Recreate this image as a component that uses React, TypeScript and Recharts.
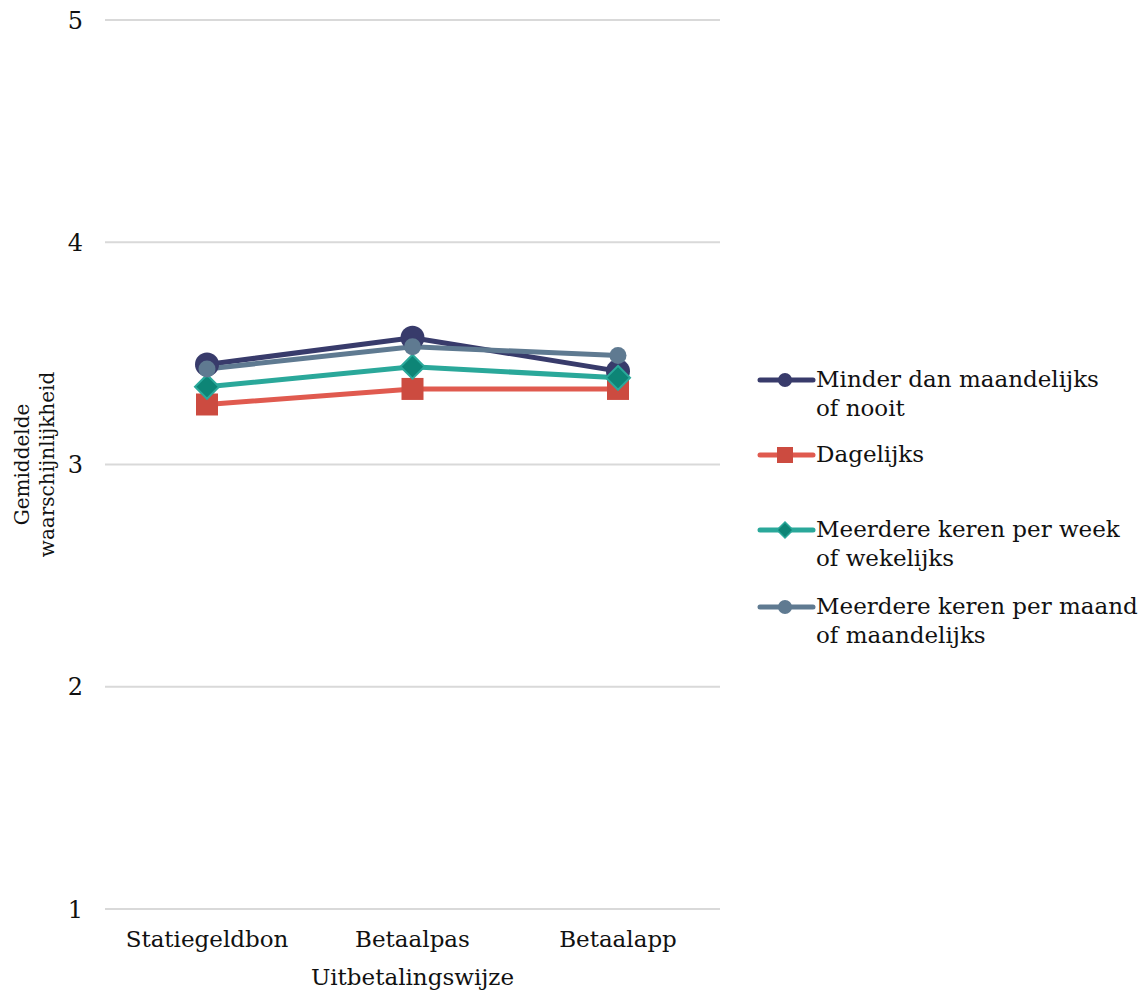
import React from 'react';
import { LineChart, Line, XAxis, YAxis, CartesianGrid, Legend } from 'recharts';

const categories = ['Statiegeldbon', 'Betaalpas', 'Betaalapp'];
const minderDanMaandelijks = [3.45, 3.57, 3.42];
const dagelijks = [3.27, 3.34, 3.34];
const meerdereWeek = [3.35, 3.44, 3.39];
const meerdereMaand = [3.43, 3.53, 3.49];
const yTicks = [1, 2, 3, 4, 5];

const seriesNames = [
  'Minder dan maandelijks of nooit',
  'Dagelijks',
  'Meerdere keren per week of wekelijks',
  'Meerdere keren per maand of maandelijks',
];
const legendLines = [
  ['Minder dan maandelijks', 'of nooit'],
  ['Dagelijks'],
  ['Meerdere keren per week', 'of wekelijks'],
  ['Meerdere keren per maand', 'of maandelijks'],
];

const data = categories.map((c, i) => ({
  cat: c,
  s0: minderDanMaandelijks[i],
  s1: dagelijks[i],
  s2: meerdereWeek[i],
  s3: meerdereMaand[i],
}));

const FONT = '"DejaVu Serif", serif';
const NAVY = '#383b6b';
const RED_LINE = '#e05a4f';
const RED_MARK = '#cc4b40';
const TEAL_LINE = '#2aa89a';
const TEAL_MARK = '#0d8576';
const SLATE = '#5f7a91';

const CircleDot = (r: number, color: string) => (props: any) => {
  const { cx, cy } = props;
  if (cx == null || cy == null) return null;
  return <circle cx={cx} cy={cy} r={r} fill={color} stroke="none" />;
};
const SquareDot = (props: any) => {
  const { cx, cy } = props;
  if (cx == null || cy == null) return null;
  return <rect x={cx - 11} y={cy - 11} width={22} height={22} fill={RED_MARK} />;
};
const DiamondDot = (props: any) => {
  const { cx, cy } = props;
  if (cx == null || cy == null) return null;
  const h = 12;
  return (
    <path
      d={`M${cx},${cy - h} L${cx + h},${cy} L${cx},${cy + h} L${cx - h},${cy} Z`}
      fill={TEAL_MARK}
      stroke={TEAL_LINE}
      strokeWidth={2}
    />
  );
};

const legendIcons = [
  (y: number) => <circle cx={29} cy={y} r={7} fill={NAVY} />,
  (y: number) => <rect x={21} y={y - 8} width={16} height={16} fill={RED_MARK} />,
  (y: number) => (
    <path d={`M29,${y - 8} L37,${y} L29,${y + 8} L21,${y} Z`} fill={TEAL_MARK} stroke={TEAL_LINE} strokeWidth={1.5} />
  ),
  (y: number) => <circle cx={29} cy={y} r={7} fill={SLATE} />,
];
const legendColors = [NAVY, RED_LINE, TEAL_LINE, SLATE];

const renderLegend = () => (
  <div style={{ position: 'relative', width: 384, height: 300, fontFamily: FONT, textAlign: 'left' }}>
    {legendLines.map((lines, i) => {
      const top = i * 75 + (i === 3 ? 2 : 0);
      return (
        <div key={i} style={{ position: 'absolute', left: 0, top, display: 'flex', alignItems: 'flex-start' }}>
          <svg width={60} height={28} style={{ flex: 'none' }}>
            <line x1={4} y1={14} x2={57} y2={14} stroke={legendColors[i]} strokeWidth={5} strokeLinecap="round" />
            {legendIcons[i](14)}
          </svg>
          <div style={{ fontSize: 23, lineHeight: '29px', color: '#111', marginTop: -1 }}>
            {lines.map((l, j) => (
              <div key={j}>{l}</div>
            ))}
          </div>
        </div>
      );
    })}
  </div>
);

const YLabel = (props: any) => {
  const vb = props.viewBox || {};
  const cx = 35;
  const cy = vb.y + vb.height / 2;
  return (
    <text
      transform={`rotate(-90, ${cx}, ${cy})`}
      x={cx}
      y={cy}
      textAnchor="middle"
      fontFamily={FONT}
      fontSize={20}
      fill="#111"
    >
      <tspan x={cx} dy={-6}>Gemiddelde</tspan>
      <tspan x={cx} dy={25}>waarschijnlijkheid</tspan>
    </text>
  );
};

export default function App() {
  return (
    <div style={{ position: 'absolute', left: 0, top: 0, width: 1142, height: 993, background: '#fff' }}>
      <LineChart
        width={1142}
        height={993}
        data={data}
        margin={{ top: 20, right: 422, left: 0, bottom: 0 }}
      >
        <CartesianGrid vertical={false} stroke="#d9d9d9" strokeWidth={2} />
        <XAxis
          dataKey="cat"
          axisLine={false}
          tickLine={false}
          height={84}
          tickMargin={16}
          padding={{ left: 102, right: 102 }}
          tick={{ fontFamily: FONT, fontSize: 23, fill: '#111' }}
          label={{
            value: 'Uitbetalingswijze',
            position: 'insideBottom',
            offset: 8,
            style: { fontFamily: FONT, fontSize: 23, fill: '#111' },
          }}
        />
        <YAxis
          domain={[1, 5]}
          ticks={yTicks}
          interval={0}
          axisLine={false}
          tickLine={false}
          width={105}
          tickMargin={16}
          tick={{ fontFamily: FONT, fontSize: 24, fill: '#111' }}
          label={<YLabel />}
        />
        <Legend
          layout="vertical"
          align="center"
          verticalAlign="middle"
          content={renderLegend}
          wrapperStyle={{ left: 756, top: 366, width: 386, height: 300 }}
        />
        <Line name={seriesNames[0]} dataKey="s0" stroke={NAVY} strokeWidth={5} dot={CircleDot(12, NAVY)} isAnimationActive={false} />
        <Line name={seriesNames[1]} dataKey="s1" stroke={RED_LINE} strokeWidth={5} dot={SquareDot} isAnimationActive={false} />
        <Line name={seriesNames[2]} dataKey="s2" stroke={TEAL_LINE} strokeWidth={5} dot={DiamondDot} isAnimationActive={false} />
        <Line name={seriesNames[3]} dataKey="s3" stroke={SLATE} strokeWidth={5} dot={CircleDot(8.5, SLATE)} isAnimationActive={false} />
      </LineChart>
    </div>
  );
}
